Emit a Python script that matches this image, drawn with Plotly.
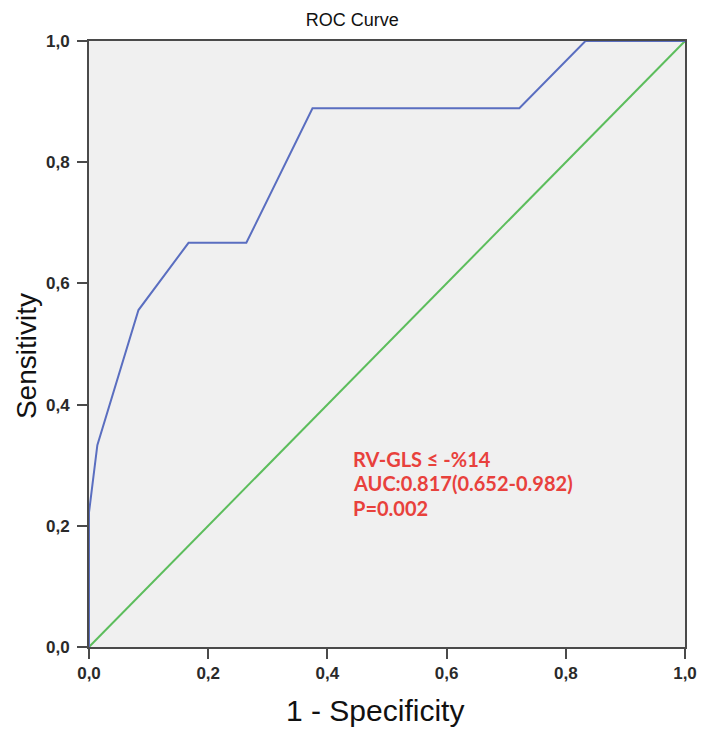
import plotly.graph_objects as go

# ROC curve data
fpr = [0.0, 0.0, 0.014, 0.083, 0.167, 0.264, 0.375, 0.722, 0.833, 1.0]
tpr = [0.0, 0.222, 0.333, 0.556, 0.667, 0.667, 0.889, 0.889, 1.0, 1.0]
ref_x = [0.0, 1.0]
ref_y = [0.0, 1.0]
tick_vals = [0.0, 0.2, 0.4, 0.6, 0.8, 1.0]
tick_text = ["0,0", "0,2", "0,4", "0,6", "0,8", "1,0"]
annot_lines = ["RV-GLS ≤ -%14", "AUC:0.817(0.652-0.982)", "P=0.002"]
annot_y = [0.31, 0.27, 0.23]

fig = go.Figure()
fig.add_trace(go.Scatter(x=ref_x, y=ref_y, mode="lines",
                         line=dict(color="#5cbd5c", width=2), showlegend=False))
fig.add_trace(go.Scatter(x=fpr, y=tpr, mode="lines",
                         line=dict(color="#5a6ec0", width=2), showlegend=False))

axis_common = dict(range=[0, 1], tickvals=tick_vals, ticktext=tick_text,
                   showgrid=False, zeroline=False, showline=True, linecolor="#4a4a4a",
                   linewidth=2, mirror=True, ticks="outside", ticklen=10, tickwidth=2,
                   tickcolor="#4a4a4a",
                   tickfont=dict(family="Arial", size=17, color="#2a2a2a", weight="bold"))

# page body has an 8px default margin, so the figure is 8px smaller than the window
fig.update_layout(
    width=701, height=724,
    margin=dict(l=81, r=16, t=33, b=85),
    paper_bgcolor="white", plot_bgcolor="#f0f0f0",
    title=dict(text="ROC Curve", x=0.491, xanchor="center", y=0.984, yanchor="middle",
               font=dict(family="Arial", size=18, color="#111111")),
    xaxis=dict(**axis_common, ticklabelstandoff=0),
    yaxis=dict(**axis_common, ticklabelstandoff=4),
)

# axis titles
fig.add_annotation(x=0.48, y=0, xref="paper", yref="paper", yshift=-63,
                   xanchor="center", yanchor="middle", text="1 - Specificity",
                   showarrow=False, font=dict(family="Arial", size=30, color="#111111"))
fig.add_annotation(x=0, y=0.48, xref="paper", yref="paper", xshift=-63,
                   xanchor="center", yanchor="middle", text="Sensitivity", textangle=-90,
                   showarrow=False, font=dict(family="Arial", size=28, color="#111111"))

for txt, yy in zip(annot_lines, annot_y):
    fig.add_annotation(x=0.44, y=yy, xref="x", yref="y", xanchor="left", yanchor="middle",
                       text=txt, showarrow=False, align="left",
                       font=dict(family="Lato", size=20, color="#e8413c", weight="bold"))

fig.write_html("out.html")
